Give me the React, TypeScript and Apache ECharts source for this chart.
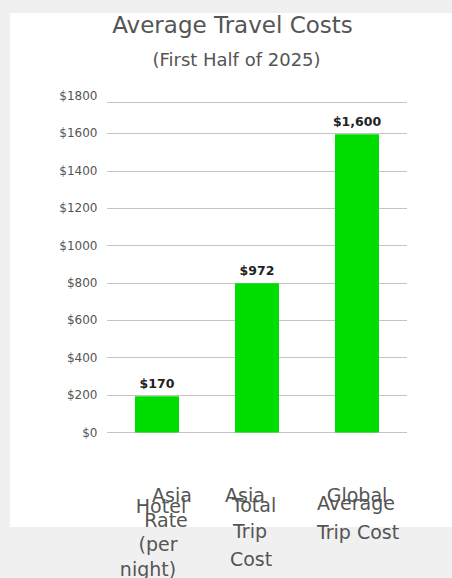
import React, { useEffect, useRef } from "react";
import * as echarts from "echarts";

// ---- data ----
const categories = ["Asia Hotel Rate (per night)", "Asia Total Trip Cost", "Global Average Trip Cost"];
const categoryLines = [
  ["Asia", "Hotel", "Rate", "(per", "night)"],
  ["Asia", "Total", "Trip", "Cost"],
  ["Global", "Average", "Trip Cost"],
];
const barValues = [194, 799, 1595];
const valueLabels = ["$170", "$972", "$1,600"];
const yMin = 0;
const yMax = 1800;
const yInterval = 200;
const topLineValue = 1766;
const titleText = "Average Travel Costs";
const subtitleText = "(First Half of 2025)";

// ---- label line layout (style) ----
const lineHeights = [
  [10, 12, 16, 32, 18],
  [10, 10, 42, 14],
  [10, 6, 52],
];
const lineOffsets = [
  [15, 4, 9, 1, -9],
  [-12, -3, -7, -6],
  [0, -1, 1],
];

const FONT = "DejaVu Sans";
const TEXT_COLOR = "#555555";
const GRID_COLOR = "#c4c4c4";
const BAR_COLOR = "#00dd00";

function buildRich() {
  const rich: Record<string, any> = {};
  categoryLines.forEach((lines, i) => {
    lines.forEach((_, j) => {
      const off = lineOffsets[i][j];
      rich[`c${i}l${j}`] = {
        fontFamily: FONT,
        fontSize: 19,
        color: TEXT_COLOR,
        lineHeight: lineHeights[i][j],
        padding: off >= 0 ? [0, 0, 0, off * 2] : [0, -off * 2, 0, 0],
      };
    });
  });
  return rich;
}

export default function App() {
  const ref = useRef<HTMLDivElement>(null);

  useEffect(() => {
    if (!ref.current) return;
    const chart = echarts.init(ref.current, undefined, { renderer: "svg" });
    chart.setOption({
      animation: false,
      textStyle: { fontFamily: FONT },
      title: [
        {
          text: titleText,
          left: 227.5,
          top: 8,
          textAlign: "center",
          textStyle: { fontFamily: FONT, fontSize: 23, fontWeight: "normal", color: TEXT_COLOR },
        },
        {
          text: subtitleText,
          left: 231.5,
          top: 45,
          textAlign: "center",
          textStyle: { fontFamily: FONT, fontSize: 18, fontWeight: "normal", color: TEXT_COLOR },
        },
      ],
      grid: { left: 107, right: 45, top: 96, bottom: 145, containLabel: false },
      xAxis: {
        type: "category",
        data: categories,
        axisLine: { show: false },
        axisTick: { show: false },
        axisLabel: {
          interval: 0,
          margin: 57,
          formatter: (_v: string, index: number) =>
            categoryLines[index].map((t, j) => `{c${index}l${j}|${t}}`).join("\n"),
          rich: buildRich(),
        },
      },
      yAxis: {
        type: "value",
        min: yMin,
        max: yMax,
        interval: yInterval,
        axisLine: { show: false },
        axisTick: { show: false },
        axisLabel: {
          margin: 9.5,
          fontFamily: FONT,
          fontSize: 12,
          color: TEXT_COLOR,
          formatter: (v: number) => "$" + v,
        },
        splitLine: {
          show: true,
          showMaxLine: false,
          lineStyle: { color: GRID_COLOR, width: 1 },
        },
      },
      series: [
        {
          type: "bar",
          data: barValues,
          barWidth: 44,
          itemStyle: { color: BAR_COLOR },
          label: {
            show: true,
            position: "top",
            distance: 6,
            fontFamily: FONT,
            fontSize: 12.5,
            fontWeight: "bold",
            color: "#222222",
            formatter: (p: any) => valueLabels[p.dataIndex],
          },
          markLine: {
            silent: true,
            symbol: ["none", "none"],
            label: { show: false },
            lineStyle: { color: GRID_COLOR, type: "solid", width: 1 },
            data: [{ yAxis: topLineValue }],
          },
        },
      ],
    });
    return () => chart.dispose();
  }, []);

  return (
    <div style={{ position: "fixed", left: 0, top: 0, width: 452, height: 578, background: "#f0f0f0" }}>
      <div style={{ position: "absolute", left: 10, top: 13, width: 442, height: 514, background: "#ffffff" }} />
      <div ref={ref} style={{ position: "absolute", left: 0, top: 0, width: 452, height: 578 }} />
    </div>
  );
}
